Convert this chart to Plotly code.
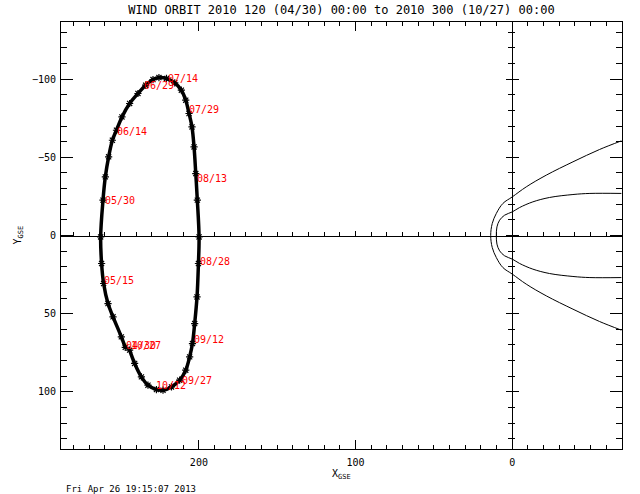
"""WIND orbit plot in GSE coordinates, redrawn with Plotly."""

import plotly.graph_objects as go

TITLE = "WIND ORBIT 2010 120 (04/30) 00:00 to 2010 300 (10/27) 00:00"
STAMP = "Fri Apr 26 19:15:07 2013"

X_RANGE = [288, -70]
Y_RANGE = [136.5, -136.5]

# spacecraft track (Re)
orbit_x = [247.0, 249.5, 254.8, 258.0, 260.8, 262.1, 262.7, 261.2, 259.7, 257.6,
           255.2, 252.6, 249.1, 244.2, 238.9, 234.0, 229.3, 225.5, 220.7, 215.4,
           211.2, 208.4, 206.3, 204.4, 203.1, 202.0, 201.0, 199.9, 200.3, 201.2,
           202.7, 204.1, 205.9, 208.4, 212.3, 217.5, 222.9, 227.1, 232.5, 236.7,
           241.0, 244.2]
orbit_y = [71.5, 64.8, 52.0, 43.5, 30.7, 17.9, 0.9, -22.6, -37.5, -50.3,
           -60.9, -67.3, -75.8, -84.4, -90.8, -96.1, -99.7, -101.0, -100.4, -97.6,
           -92.9, -86.5, -78.0, -69.4, -56.6, -39.6, -22.6, 0.9, 17.9, 39.3,
           56.3, 69.1, 77.6, 86.1, 92.5, 96.8, 98.9, 98.5, 95.7, 90.4,
           81.8, 73.3]

date_labels = ["04/30", "05/15", "05/30", "06/14", "06/29", "07/14", "07/29",
               "08/13", "08/28", "09/12", "09/27", "10/12", "10/27"]
date_x = [247.4, 261.4, 260.8, 253.1, 235.9, 220.5, 207.1,
          202.0, 200.1, 204.0, 211.6, 228.2, 244.2]
date_y = [72.7, 31.1, -20.0, -64.1, -93.5, -98.0, -78.1,
          -34.3, 19.0, 68.9, 95.1, 98.3, 72.7]

# model bow shock and magnetopause
bow_x = [-69.6, -55.7, -38.7, -21.7, -8.9, 0.0, 6.0, 10.2, 12.8, 13.8,
         12.8, 10.2, 6.0, 0.0, -8.9, -21.7, -38.7, -55.7, -69.6]
bow_y = [60.5, 55.0, 47.1, 38.6, 31.1, 24.7, 20.5, 14.1, 7.7, 0.0,
         -7.7, -14.1, -20.5, -24.7, -31.1, -38.6, -47.1, -55.0, -60.5]
mp_x = [-69.6, -49.5, -38.7, -23.7, -13.1, -4.7, 0.0, 4.9, 8.1, 9.8, 10.2,
        9.8, 8.1, 4.9, 0.0, -4.7, -13.1, -23.7, -38.7, -49.5, -69.6]
mp_y = [26.9, 26.9, 26.2, 24.3, 21.5, 17.9, 15.1, 13.0, 9.8, 5.5, 0.0,
        -5.5, -9.8, -13.0, -15.1, -17.9, -21.5, -24.3, -26.2, -26.9, -26.9]

FONT = "DejaVu Sans Mono"

fig = go.Figure()
for cx, cy in ((bow_x, bow_y), (mp_x, mp_y)):
    fig.add_trace(go.Scatter(x=cx, y=cy, mode="lines", line=dict(color="black", width=1, shape="spline"),
                             hoverinfo="skip"))
fig.add_trace(go.Scatter(
    x=orbit_x, y=orbit_y, mode="lines+markers",
    line=dict(color="black", width=3.5, shape="spline"),
    marker=dict(symbol="asterisk-open", size=6, color="black", line=dict(color="black", width=1.2)),
))
# empty traces so the origin axes get drawn
fig.add_trace(go.Scatter(x=[], y=[], xaxis="x2", yaxis="y2", hoverinfo="skip"))
fig.add_trace(go.Scatter(x=[], y=[], xaxis="x2", yaxis="y3", hoverinfo="skip"))

for lab, lx, ly in zip(date_labels, date_x, date_y):
    fig.add_annotation(x=lx, y=ly, xref="x", yref="y", text=lab, showarrow=False,
                       xanchor="left", yanchor="bottom", yshift=-3, borderpad=0,
                       font=dict(family=FONT, size=10, color="red"))

axis_common = dict(showgrid=False, zeroline=False, showline=True, linecolor="black", linewidth=1,
                   tickcolor="black", tickwidth=1, tick0=0, automargin=False)
x0_pos = X_RANGE[0] / (X_RANGE[0] - X_RANGE[1])
fig.update_layout(
    width=640, height=494,
    margin=dict(l=61, r=18, t=22, b=45, autoexpand=False),
    paper_bgcolor="white", plot_bgcolor="white",
    showlegend=False,
    font=dict(family=FONT, size=10, color="black"),
    xaxis=dict(range=X_RANGE, domain=[0, 1], dtick=100, ticks="inside", ticklen=9, mirror="ticks",
               tickfont=dict(size=10), ticklabelstandoff=4,
               minor=dict(dtick=10, tick0=0, ticks="inside", ticklen=4, tickcolor="black", showgrid=False),
               **axis_common),
    yaxis=dict(range=Y_RANGE, domain=[0, 1], dtick=50, ticks="inside", ticklen=12, mirror="ticks",
               tickfont=dict(size=10), ticklabelstandoff=2,
               minor=dict(dtick=10, tick0=0, ticks="inside", ticklen=6, tickcolor="black", showgrid=False),
               **axis_common),
    # axes through the origin
    xaxis2=dict(overlaying="x", matches="x", anchor="free", position=0.5, side="bottom",
                ticks="inside", ticklen=5, showticklabels=False, dtick=100,
                minor=dict(dtick=10, tick0=0, ticks="inside", ticklen=4, tickcolor="black"),
                **axis_common),
    yaxis2=dict(overlaying="y", matches="y", anchor="free", position=x0_pos, side="left",
                ticks="outside", ticklen=6, showticklabels=False, dtick=50,
                minor=dict(dtick=10, tick0=0, ticks="outside", ticklen=4, tickcolor="black"),
                **axis_common),
    yaxis3=dict(overlaying="y", matches="y", anchor="free", position=x0_pos, side="left",
                ticks="inside", ticklen=6, showticklabels=False, dtick=50,
                minor=dict(dtick=10, tick0=0, ticks="inside", ticklen=2, tickcolor="black"),
                **axis_common),
    title=dict(text=TITLE, x=0.5, xref="paper", y=1, yref="container", yanchor="top", pad=dict(t=6),
               automargin=False, font=dict(family=FONT, size=12, color="black")),
)

fig.add_annotation(text="X<sub>GSE</sub>", xref="paper", yref="paper", x=0.5, y=-25 / 427,
                   yanchor="middle", showarrow=False, font=dict(family=FONT, size=10))
fig.add_annotation(text="Y<sub>GSE</sub>", xref="paper", yref="paper", x=-43 / 561, y=0.5,
                   xanchor="center", textangle=-90, showarrow=False, font=dict(family=FONT, size=10))
fig.add_annotation(text=STAMP, xref="paper", yref="paper", x=0.005, y=-40 / 427,
                   xanchor="left", yanchor="middle", showarrow=False, font=dict(family=FONT, size=9))

# drop the page's default body margin so the figure sits at the window corner
fig.write_html("out.html", config={"displayModeBar": False},
               post_script="document.body.style.margin = '0';")
